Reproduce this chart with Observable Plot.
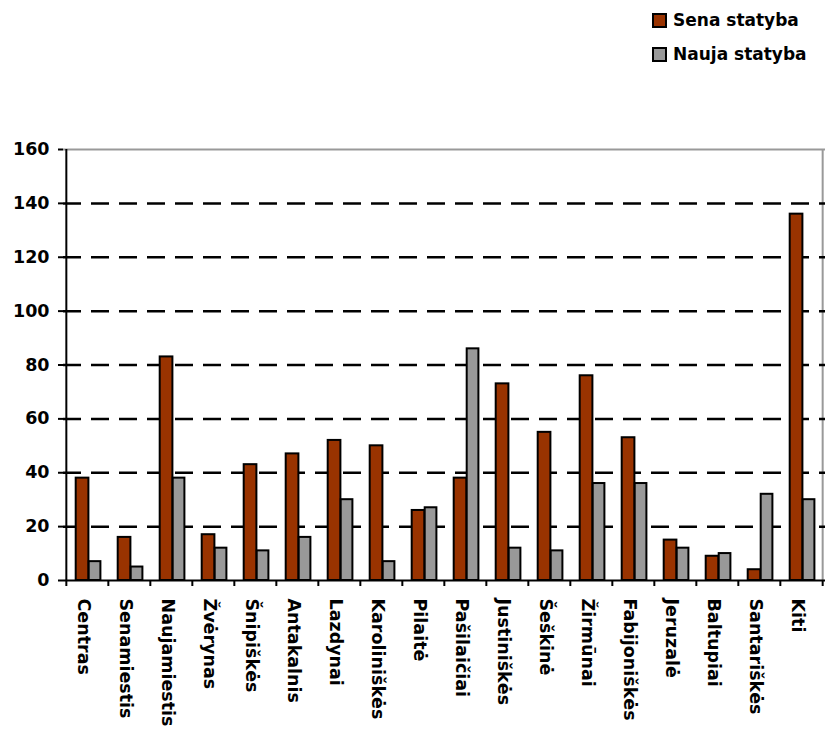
<!DOCTYPE html>
<html>
<head>
<meta charset="utf-8">
<script src="https://cdn.jsdelivr.net/npm/d3@7"></script>
<script src="https://cdn.jsdelivr.net/npm/@observablehq/plot@0.6"></script>
<style>
  body { margin: 0; background: white; }
  #wrap { position: relative; width: 829px; height: 729px; }
  #legend { position: absolute; left: 652px; top: 10px; font-family: "DejaVu Sans", sans-serif; font-weight: bold; font-size: 17px; color: black; }
  .item { display: flex; align-items: center; height: 20px; margin-bottom: 14px; }
  .sw { width: 11px; height: 11px; border: 2px solid black; margin-right: 6px; }
</style>
</head>
<body>
<div id="wrap">
  <div id="chart"></div>
  <div id="legend"></div>
</div>
<script>
const districts = ["Centras","Senamiestis","Naujamiestis","Žvėrynas","Šnipiškės","Antakalnis","Lazdynai","Karoliniškės","Pilaitė","Pašilaičiai","Justiniškės","Šeškinė","Žirmūnai","Fabijoniškės","Jeruzalė","Baltupiai","Santariškės","Kiti"];
const sena  = [38,16,83,17,43,47,52,50,26,38,73,55,76,53,15,9,4,136];
const nauja = [7,5,38,12,11,16,30,7,27,86,12,11,36,36,12,10,32,30];
const seriesNames = ["Sena statyba","Nauja statyba"];
const seriesColors = ["#993300","#999999"];
const yTicks = [0,20,40,60,80,100,120,140,160];
const gridTicks = [20,40,60,80,100,120,140];

const data = districts.map((d, i) => ({district: d, sena: sena[i], nauja: nauja[i]}));

const W = 829, H = 729, mL = 63, mR = 4, mT = 149, mB = 149;
const step = (W - mL - mR) / districts.length;
const lastD = districts[districts.length - 1];

const chart = Plot.plot({
  width: W, height: H,
  marginLeft: mL, marginRight: mR, marginTop: mT, marginBottom: mB,
  style: {fontFamily: "DejaVu Sans", fontWeight: "bold", fontSize: "17px", color: "black", background: "white", overflow: "visible"},
  x: {domain: districts, padding: 0, label: null, axis: null},
  y: {domain: [0, 160], label: null, axis: null},
  marks: [
    Plot.ruleY([160], {stroke: "#999999", strokeWidth: 2}),
    Plot.ruleX([lastD], {dx: step / 2, y1: 0, y2: 160, stroke: "#999999", strokeWidth: 2}),
    Plot.ruleY(gridTicks, {stroke: "black", strokeWidth: 2.5, strokeDasharray: "18,10"}),
    Plot.barY(data, {x: "district", y: "sena", fill: seriesColors[0], stroke: "black", strokeWidth: 2, insetLeft: 9.7, insetRight: 19.6}),
    Plot.barY(data, {x: "district", y: "nauja", fill: seriesColors[1], stroke: "black", strokeWidth: 2, insetLeft: 22.7, insetRight: 7.6}),
    Plot.ruleY([0], {stroke: "black", strokeWidth: 2}),
    Plot.ruleX([districts[0]], {dx: -step / 2, y1: 0, y2: 160, stroke: "black", strokeWidth: 2}),
    Plot.axisY({ticks: yTicks, tickSize: 5, tickPadding: 9, strokeWidth: 2, fontSize: 17, fontWeight: "bold", label: null}),
    Plot.axisX({ticks: districts, tickSize: 6, dx: -step / 2, tickFormat: () => "", strokeWidth: 2, label: null}),
    Plot.axisX({ticks: [lastD], tickSize: 6, dx: step / 2, tickFormat: () => "", strokeWidth: 2, label: null}),
    Plot.axisX({ticks: districts, tickSize: 0, tickRotate: 90, tickPadding: 18, dx: -4, fontSize: 17, fontWeight: "bold", label: null})
  ]
});
document.getElementById("chart").appendChild(chart);
chart.querySelectorAll("text").forEach(t => {
  t.style.fontFamily = "'DejaVu Sans'";
  t.style.fontWeight = "bold";
  t.style.fontSize = "17.5px";
  t.style.fontStretch = "normal";
});

const legend = document.getElementById("legend");
seriesNames.forEach((name, i) => {
  const item = document.createElement("div");
  item.className = "item";
  const sw = document.createElement("div");
  sw.className = "sw";
  sw.style.background = seriesColors[i];
  const label = document.createElement("span");
  label.textContent = name;
  item.appendChild(sw);
  item.appendChild(label);
  legend.appendChild(item);
});
</script>
</body>
</html>
